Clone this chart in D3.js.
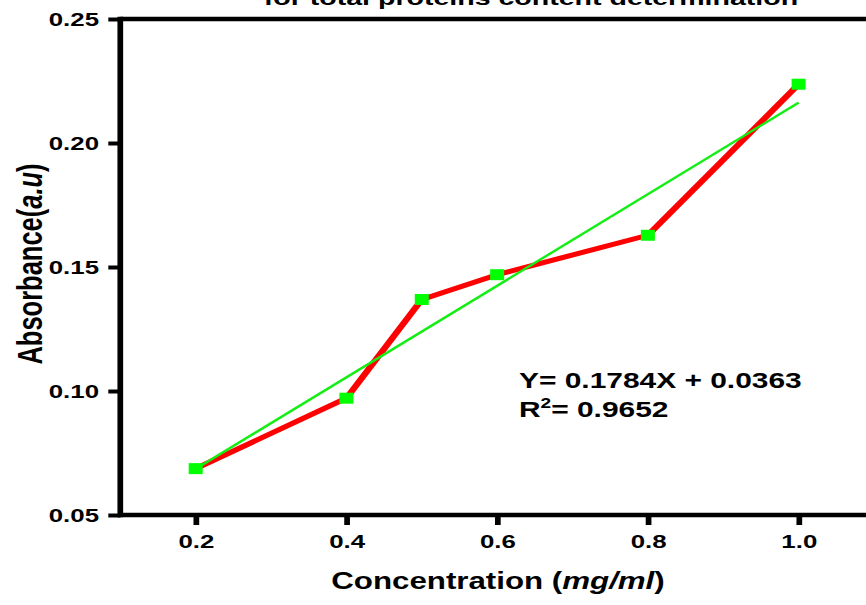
<!DOCTYPE html>
<html><head><meta charset="utf-8">
<script src="https://cdn.jsdelivr.net/npm/d3@7"></script>
<style>
body{margin:0;background:#fff;overflow:hidden}
text{font-family:"Liberation Sans",Arial,Helvetica,sans-serif;font-weight:bold;fill:#000}
</style>
</head><body>
<svg id="c" width="866" height="605"></svg>
<script>
// ---- data ----
const concentration = [0.2, 0.4, 0.5, 0.6, 0.8, 1.0];
const absorbance    = [0.0687, 0.0971, 0.1369, 0.1469, 0.1628, 0.2237];
const xTicks = [0.2, 0.4, 0.6, 0.8, 1.0];
const yTicks = [0.05, 0.10, 0.15, 0.20, 0.25];
const xDomain = [0.1, 1.1];
const yDomain = [0.05, 0.25];
const titleText = "for total proteins content determination";
const equationText = "Y= 0.1784X + 0.0363";
const r2Text = "= 0.9652";

// ---- layout ----
const S = 1.36; // horizontal stretch of the original picture
const svg = d3.select("#c");
const g = svg.append("g").attr("transform", `scale(${S},1)`);

const x = d3.scaleLinear().domain(xDomain).range([120.3 / S, 874 / S]);
const y = d3.scaleLinear().domain(yDomain).range([515, 19]);

// regression line from data (least squares)
const n = concentration.length;
const mx = d3.mean(concentration), my = d3.mean(absorbance);
let sxy = 0, sxx = 0;
for (let i = 0; i < n; i++) { sxy += (concentration[i]-mx)*(absorbance[i]-my); sxx += (concentration[i]-mx)**2; }
const slope = sxy / sxx, intercept = my - slope * mx;
const xMin = d3.min(concentration), xMax = d3.max(concentration);

// frame (top and right, left)
g.append("line").attr("x1", x(xDomain[0])).attr("x2", x(xDomain[1]) + 2)
  .attr("y1", y(yDomain[1])).attr("y2", y(yDomain[1]))
  .attr("stroke", "#000").attr("stroke-width", 4.5);
g.append("line").attr("x1", x(xDomain[1])).attr("x2", x(xDomain[1]))
  .attr("y1", y(yDomain[1])).attr("y2", y(yDomain[0]))
  .attr("stroke", "#000").attr("stroke-width", 4);
g.append("line").attr("x1", x(xDomain[0])).attr("x2", x(xDomain[0]))
  .attr("y1", y(yDomain[1]) - 2.25).attr("y2", y(yDomain[0]) + 2.25)
  .attr("stroke", "#000").attr("stroke-width", 4.2);

// x axis
const gx = g.append("g").attr("transform", `translate(0,${y(yDomain[0])})`)
  .call(d3.axisBottom(x).tickValues(xTicks).tickSize(10).tickSizeOuter(0).tickFormat(d3.format(".1f")));
gx.select(".domain").attr("stroke", "#000").attr("stroke-width", 4.5)
  .attr("d", `M${x(xDomain[0]) - 1.5},0H${x(xDomain[1]) + 2}`);
gx.selectAll(".tick line").attr("stroke", "#000").attr("stroke-width", 4.2);
gx.selectAll(".tick text").attr("y", 33).attr("dy", null)
  .style("font-size", "19px").style("font-family", null).attr("fill", "#000");
gx.attr("font-family", null).attr("font-size", null);

// y axis
const gy = g.append("g").attr("transform", `translate(${x(xDomain[0])},0)`)
  .call(d3.axisLeft(y).tickValues(yTicks).tickSize(12 / S).tickSizeOuter(0).tickFormat(d3.format(".2f")));
gy.select(".domain").remove();
gy.selectAll(".tick line").attr("stroke", "#000").attr("stroke-width", 4);
gy.selectAll(".tick text").attr("x", -(120.3 - 99) / S).attr("dy", "0.35em")
  .style("font-size", "19px").attr("fill", "#000");
gy.attr("font-family", null).attr("font-size", null);

// data line
g.append("path").datum(concentration.map((c, i) => [c, absorbance[i]]))
  .attr("fill", "none").attr("stroke", "#ff0000").attr("stroke-width", 5)
  .attr("stroke-linejoin", "round")
  .attr("d", d3.line().x(d => x(d[0])).y(d => y(d[1])));

// regression line
g.append("line")
  .attr("x1", x(xMin)).attr("y1", y(intercept + slope * xMin))
  .attr("x2", x(xMax)).attr("y2", y(intercept + slope * xMax))
  .attr("stroke", "#14ee14").attr("stroke-width", 2.2);

// markers
const mw = 14 / S, mh = 11;
g.selectAll("rect.m").data(concentration).enter().append("rect").attr("class", "m")
  .attr("x", d => x(d) - mw / 2).attr("y", (d, i) => y(absorbance[i]) - mh / 2)
  .attr("width", mw).attr("height", mh).attr("fill", "#00ff00");

// title (partly cut off at top)
g.append("text").attr("x", 531 / S).attr("y", 5).attr("text-anchor", "middle")
  .style("font-size", "21px").text(titleText);

// y label
const yl = g.append("text").attr("transform", `translate(${42 / S},264) rotate(-90)`)
  .attr("text-anchor", "middle").style("font-size", "25.5px");
yl.append("tspan").text("Absorbance(");
yl.append("tspan").style("font-style", "italic").text("a.u");
yl.append("tspan").text(")");

// x label
const xl = g.append("text").attr("x", 498 / S).attr("y", 589).attr("text-anchor", "middle")
  .style("font-size", "23px");
xl.append("tspan").text("Concentration (");
xl.append("tspan").style("font-style", "italic").text("mg/ml");
xl.append("tspan").text(")");

// equation
g.append("text").attr("x", 519 / S).attr("y", 388).style("font-size", "22px").text(equationText);
const r2 = g.append("text").attr("x", 519 / S).attr("y", 417).style("font-size", "22px");
r2.append("tspan").text("R");
r2.append("tspan").attr("dy", -9).style("font-size", "14px").text("2");
r2.append("tspan").attr("dy", 9).text(r2Text);
</script>
</body></html>
